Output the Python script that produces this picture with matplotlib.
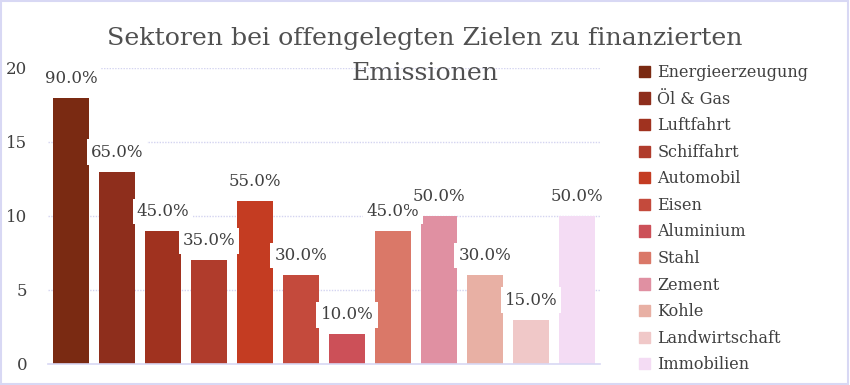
import matplotlib
matplotlib.use("Agg")
import matplotlib.pyplot as plt
from matplotlib.patches import Rectangle

categories = ["Energieerzeugung", "Öl & Gas", "Luftfahrt", "Schiffahrt", "Automobil",
              "Eisen", "Aluminium", "Stahl", "Zement", "Kohle", "Landwirtschaft", "Immobilien"]
values = [18, 13, 9, 7, 11, 6, 2, 9, 10, 6, 3, 10]
labels = ["90.0%", "65.0%", "45.0%", "35.0%", "55.0%", "30.0%", "10.0%",
          "45.0%", "50.0%", "30.0%", "15.0%", "50.0%"]
colors = ["#7A2A12", "#8E2E1C", "#A0321F", "#B03C2C", "#C43C22", "#C44A3C",
          "#CC5058", "#DA7868", "#E090A2", "#E8B0A4", "#F0C8C8", "#F4DCF4"]
yticks = [0, 5, 10, 15, 20]
title_lines = ["Sektoren bei offengelegten Zielen zu finanzierten", "Emissionen"]

plt.rcParams['font.family'] = ['DejaVu Serif']
fig = plt.figure(figsize=(8.5, 3.85), dpi=100)
ax = fig.add_axes([48/850, 1 - 364/385, 552/850, 296/385])

x = list(range(len(categories)))
ax.bar(x, values, width=0.78, color=colors, zorder=2)
ax.set_xlim(-0.5, 11.5)
ax.set_ylim(0, 20)
ax.set_yticks(yticks)
ax.set_yticklabels([str(t) for t in yticks], fontsize=12, color="#404040")
ax.tick_params(axis='y', length=0, pad=15)
ax.set_xticks([])
for s in ["top", "right", "left"]:
    ax.spines[s].set_visible(False)
ax.spines["bottom"].set_color("#D8D8F4")
ax.spines["bottom"].set_linewidth(1.2)
for t in yticks[1:]:
    ax.axhline(t, color="#D4D4F0", lw=1, ls=(0, (1, 1)), zorder=1)

for xi, v, lab in zip(x, values, labels):
    ax.annotate(lab, (xi, v), xytext=(0, 14), textcoords="offset points",
                ha="center", va="center", fontsize=12, color="#404040",
                bbox=dict(boxstyle="square,pad=0.25", fc="white", ec="none"), zorder=5)

for i, line in enumerate(title_lines):
    fig.text(425/850, 1 - (38 + 35 * i)/385, line, ha="center", va="center",
             fontsize=18.2, color="#505050")

handles = [Rectangle((0, 0), 1, 1, color=c) for c in colors]
fig.legend(handles, categories, loc="upper left", bbox_to_anchor=(639/850, 1 - 64/385),
           frameon=False, fontsize=11.5, handlelength=0.7, handleheight=0.7,
           handletextpad=0.45, labelspacing=0.6, labelcolor="#404040",
           borderaxespad=0, borderpad=0)

fig.add_artist(Rectangle((0.001, 0.002), 0.997, 0.995, transform=fig.transFigure,
                         fill=False, ec="#D8D8F4", lw=1.5))
fig.savefig("out.png", dpi=100)
